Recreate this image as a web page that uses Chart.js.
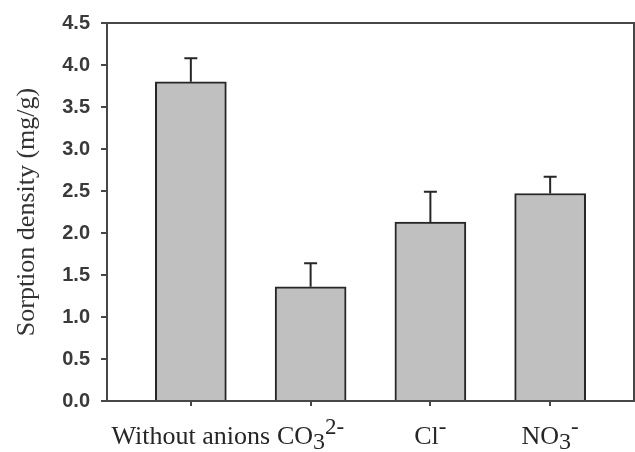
<!DOCTYPE html>
<html>
<head>
<meta charset="utf-8">
<script src="https://cdn.jsdelivr.net/npm/chart.js@4/dist/chart.umd.min.js"></script>
<style>
  html, body { margin: 0; padding: 0; background: #ffffff; }
  canvas { display: block; }
</style>
</head>
<body>
<canvas id="chart" width="635" height="452"></canvas>
<script>
// Sorption density of each treatment (mg/g) with standard deviation
const categories = ['Without anions', 'CO3 2-', 'Cl -', 'NO3 -'];
// Rich label pieces: [text, style] where style is '', 'sub' or 'sup'
const categoryLabels = [
  [['Without anions', '']],
  [['CO', ''], ['3', 'sub'], ['2-', 'sup']],
  [['Cl', ''], ['-', 'sup']],
  [['NO', ''], ['3', 'sub'], ['-', 'sup']]
];
const sorption = [3.80, 1.36, 2.13, 2.47];
const sorptionSD = [0.28, 0.28, 0.36, 0.20];
const yTickValues = [0, 0.5, 1.0, 1.5, 2.0, 2.5, 3.0, 3.5, 4.0, 4.5];
const yTitle = 'Sorption density (mg/g)';

const AXIS_COLOR = '#474747';
const INK = '#262626';

// Upper error bars with caps
const errorBars = {
  id: 'errorBars',
  afterDatasetsDraw(chart) {
    const { ctx, scales: { y } } = chart;
    const meta = chart.getDatasetMeta(0);
    ctx.save();
    ctx.strokeStyle = INK;
    ctx.lineWidth = 2;
    meta.data.forEach((bar, i) => {
      const top = y.getPixelForValue(sorption[i] + sorptionSD[i]);
      const base = y.getPixelForValue(sorption[i]);
      ctx.beginPath();
      ctx.moveTo(bar.x, base);
      ctx.lineTo(bar.x, top);
      ctx.moveTo(bar.x - 6.5, top);
      ctx.lineTo(bar.x + 6.5, top);
      ctx.stroke();
    });
    ctx.restore();
  }
};

// Box frame around the plotting area
const frame = {
  id: 'frame',
  afterDraw(chart) {
    const { ctx, chartArea: a } = chart;
    ctx.save();
    ctx.strokeStyle = AXIS_COLOR;
    ctx.lineWidth = 2;
    ctx.strokeRect(a.left, a.top, a.right - a.left, a.bottom - a.top);
    ctx.restore();
  }
};

// Category labels with chemical sub/superscripts
const richLabels = {
  id: 'richLabels',
  afterDraw(chart) {
    const { ctx, scales: { x } } = chart;
    const base = 444;
    const fonts = {
      '': '26px "Liberation Serif", "Times New Roman", serif',
      'sub': '24px "Liberation Serif", "Times New Roman", serif',
      'sup': '23px "Liberation Serif", "Times New Roman", serif'
    };
    const shift = { '': 0, 'sub': 5, 'sup': -10 };
    ctx.save();
    ctx.fillStyle = INK;
    ctx.textBaseline = 'alphabetic';
    ctx.textAlign = 'left';
    categoryLabels.forEach((pieces, i) => {
      let total = 0;
      const widths = pieces.map(([t, s]) => {
        ctx.font = fonts[s];
        const w = ctx.measureText(t).width;
        total += w;
        return w;
      });
      let px = x.getPixelForValue(i + 1) - total / 2;
      pieces.forEach(([t, s], k) => {
        ctx.font = fonts[s];
        ctx.fillText(t, px, base + shift[s]);
        px += widths[k];
      });
    });
    ctx.restore();
  }
};

new Chart(document.getElementById('chart'), {
  type: 'bar',
  data: {
    datasets: [{
      data: sorption.map((v, i) => ({ x: i + 1, y: v })),
      backgroundColor: '#c0c0c0',
      borderColor: INK,
      borderWidth: 2,
      barThickness: 71
    }]
  },
  options: {
    responsive: false,
    animation: false,
    events: [],
    layout: { padding: { top: 20, right: 1, bottom: 0, left: 0 } },
    plugins: { legend: { display: false }, tooltip: { enabled: false } },
    scales: {
      x: {
        type: 'linear',
        min: 0.3,
        max: 4.7,
        offset: false,
        afterBuildTicks(scale) {
          scale.ticks = categories.map((_, i) => ({ value: i + 1 }));
        },
        afterFit(scale) { scale.height = 51; },
        border: { display: false },
        grid: {
          offset: false,
          drawOnChartArea: false,
          drawTicks: true,
          tickLength: 5,
          color: AXIS_COLOR,
          lineWidth: 2
        },
        ticks: {
          autoSkip: false,
          maxRotation: 0,
          color: 'rgba(0,0,0,0)',
          callback: (v) => categories[Math.round(v) - 1] || ''
        }
      },
      y: {
        min: 0,
        max: 4.5,
        afterBuildTicks(scale) {
          scale.ticks = yTickValues.map(v => ({ value: v }));
        },
        afterFit(scale) { scale.width = 107; },
        border: { display: false },
        grid: {
          drawOnChartArea: false,
          drawTicks: true,
          tickLength: 6,
          color: AXIS_COLOR,
          lineWidth: 2
        },
        ticks: {
          padding: 11,
          color: '#3a3a3a',
          font: { family: '"Liberation Sans", Arial, sans-serif', size: 20, weight: 'bold' },
          callback: (v) => Number(v).toFixed(1)
        },
        title: {
          display: true,
          text: yTitle,
          color: '#333333',
          font: { family: '"Liberation Serif", "Times New Roman", serif', size: 26, weight: 'normal' },
          padding: { top: 12, bottom: 0 }
        }
      }
    }
  },
  plugins: [errorBars, frame, richLabels]
});
</script>
</body>
</html>
